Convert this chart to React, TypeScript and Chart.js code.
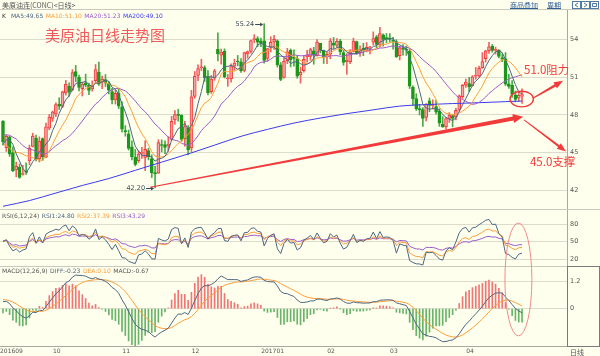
import { useEffect, useRef } from "react";
import { Chart, registerables } from "chart.js";

Chart.register(...registerables);

// ---------------- data ----------------
const dates: string[] = [
  "2016-09-09","2016-09-12","2016-09-13","2016-09-14","2016-09-15","2016-09-16","2016-09-19","2016-09-20","2016-09-21","2016-09-22","2016-09-23","2016-09-26","2016-09-27","2016-09-28","2016-09-29","2016-09-30",
  "2016-10-03","2016-10-04","2016-10-05","2016-10-06","2016-10-07","2016-10-10","2016-10-11","2016-10-12","2016-10-13","2016-10-14","2016-10-17","2016-10-18","2016-10-19","2016-10-20","2016-10-21","2016-10-24","2016-10-25","2016-10-26","2016-10-27","2016-10-28","2016-10-31",
  "2016-11-01","2016-11-02","2016-11-03","2016-11-04","2016-11-07","2016-11-08","2016-11-09","2016-11-10","2016-11-11","2016-11-14","2016-11-15","2016-11-16","2016-11-17","2016-11-18","2016-11-21","2016-11-22","2016-11-23","2016-11-25","2016-11-28","2016-11-29","2016-11-30",
  "2016-12-01","2016-12-02","2016-12-05","2016-12-06","2016-12-07","2016-12-08","2016-12-09","2016-12-12","2016-12-13","2016-12-14","2016-12-15","2016-12-16","2016-12-19","2016-12-20","2016-12-21","2016-12-22","2016-12-23","2016-12-27","2016-12-28","2016-12-29","2016-12-30",
  "2017-01-03","2017-01-04","2017-01-05","2017-01-06","2017-01-09","2017-01-10","2017-01-11","2017-01-12","2017-01-13","2017-01-17","2017-01-18","2017-01-19","2017-01-20","2017-01-23","2017-01-24","2017-01-25","2017-01-26","2017-01-27","2017-01-30","2017-01-31",
  "2017-02-01","2017-02-02","2017-02-03","2017-02-06","2017-02-07","2017-02-08","2017-02-09","2017-02-10","2017-02-13","2017-02-14","2017-02-15","2017-02-16","2017-02-17","2017-02-21","2017-02-22","2017-02-23","2017-02-24","2017-02-27","2017-02-28",
  "2017-03-01","2017-03-02","2017-03-03","2017-03-06","2017-03-07","2017-03-08","2017-03-09","2017-03-10","2017-03-13","2017-03-14","2017-03-15","2017-03-16","2017-03-17","2017-03-20","2017-03-21","2017-03-22","2017-03-23","2017-03-24","2017-03-27","2017-03-28","2017-03-29","2017-03-30","2017-03-31",
  "2017-04-03","2017-04-04","2017-04-05","2017-04-06","2017-04-07","2017-04-10","2017-04-11","2017-04-12","2017-04-13","2017-04-17","2017-04-18","2017-04-19","2017-04-20","2017-04-21","2017-04-24","2017-04-25","2017-04-26",
];

const opens: number[] = [
  47.50,45.40,46.26,45.00,43.63,43.84,43.27,43.53,44.34,45.50,46.16,44.50,46.13,44.65,46.95,47.72,
  48.06,48.86,48.67,49.75,50.26,50.00,51.43,50.98,50.08,50.54,50.36,50.07,50.71,51.40,50.64,50.80,50.48,49.85,49.19,49.73,48.65,
  46.74,46.50,45.47,44.65,44.37,44.95,44.62,45.16,44.53,43.42,43.37,45.58,45.65,45.55,46.05,47.60,48.02,47.98,46.12,46.95,45.37,
  49.46,51.13,51.74,51.76,51.04,49.84,50.92,53.20,52.75,53.06,50.85,50.86,51.86,52.23,52.22,51.53,52.83,53.03,53.97,54.05,53.87,
  53.87,52.48,53.37,53.80,53.87,51.97,50.97,52.31,53.12,52.53,52.46,51.18,51.52,52.62,52.65,53.09,52.71,53.67,53.08,52.64,
  52.82,53.70,53.52,53.85,52.95,52.22,52.23,53.04,53.82,52.93,53.30,53.14,53.32,53.78,54.20,53.54,54.35,54.07,54.11,
  53.91,53.81,52.70,53.30,53.19,53.07,50.20,49.30,48.51,48.42,47.80,49.11,48.76,48.66,48.29,47.25,47.05,47.72,47.94,47.83,48.43,49.44,50.35,
  50.48,50.31,51.07,51.09,51.75,52.46,53.10,53.45,53.12,53.13,52.55,52.45,50.47,50.35,49.60,49.32,49.48,
];
const highs: number[] = [
  47.55,46.42,46.30,45.47,44.26,44.11,44.00,44.19,45.60,46.55,46.39,46.26,46.18,47.35,48.04,48.30,
  48.95,49.36,49.89,50.74,50.54,51.60,51.93,51.17,50.61,51.24,50.53,50.70,52.00,52.20,51.09,51.20,50.64,50.10,49.96,50.09,49.03,
  47.15,46.80,45.95,45.26,45.17,45.43,45.95,45.36,44.83,43.94,46.03,46.02,45.94,46.27,47.89,48.35,48.45,48.00,47.50,47.16,49.95,
  51.44,51.98,52.42,51.90,51.51,51.13,51.62,54.51,53.23,53.24,51.21,52.05,52.42,52.72,52.47,52.98,53.08,53.94,54.37,54.21,54.09,
  55.24,53.26,54.20,54.31,53.96,52.16,52.50,53.28,53.24,53.16,52.69,51.78,52.69,53.13,53.30,53.37,53.98,53.69,53.15,52.98,
  54.06,54.14,54.05,54.00,53.14,52.86,53.19,54.09,53.86,53.49,53.68,53.74,53.45,54.59,54.31,54.94,54.43,54.46,54.46,
  54.15,53.96,53.47,53.58,53.47,53.26,50.30,49.68,48.84,48.58,48.90,49.34,49.20,49.18,48.49,47.86,47.79,48.18,48.01,48.52,49.59,50.42,50.85,
  50.98,51.12,51.77,51.88,52.94,53.13,53.76,53.59,53.38,53.19,52.86,52.95,51.23,50.73,49.90,49.87,50.07,
];
const lows: number[] = [
  45.59,45.10,44.71,43.50,43.09,42.97,43.21,43.27,44.05,45.45,44.35,44.26,44.39,44.60,46.82,47.48,
  47.86,48.43,48.58,49.57,49.47,49.90,50.64,49.90,49.50,50.22,49.60,49.88,50.55,50.33,50.08,50.25,49.66,48.87,48.86,48.50,46.63,
  46.31,45.21,44.42,43.95,44.22,44.54,43.58,44.43,43.03,42.20,43.35,45.06,44.92,45.11,45.98,47.24,47.50,45.90,45.51,44.82,45.09,
  49.31,50.72,51.50,50.65,49.58,49.70,50.74,52.29,52.03,50.93,50.27,50.59,51.56,51.89,51.38,51.41,52.50,52.89,53.72,53.41,53.41,
  52.11,52.26,53.00,53.19,51.80,50.71,50.91,52.07,51.81,51.87,50.91,50.52,51.40,52.18,52.33,52.02,52.66,52.91,52.08,52.07,
  52.45,53.27,53.37,52.77,51.94,51.22,52.07,52.99,52.81,52.65,52.70,53.00,52.83,53.54,53.31,53.38,53.46,53.73,53.78,
  53.21,52.56,52.36,52.75,52.72,50.09,48.75,48.35,47.99,47.09,47.53,48.25,48.47,48.05,47.09,47.01,46.88,47.40,47.05,47.61,48.27,49.30,50.19,
  49.85,50.29,50.83,51.00,51.69,52.20,52.87,52.97,52.83,52.53,52.22,50.33,50.11,49.39,49.03,49.07,48.92,
];
const closes: number[] = [
  45.88,46.29,44.90,43.58,43.91,43.03,43.30,43.44,45.34,46.32,44.48,45.93,44.67,47.05,47.83,48.24,
  48.81,48.69,49.83,50.44,49.81,51.35,51.05,50.18,50.44,50.35,49.94,50.29,51.60,50.43,50.85,50.52,49.96,49.18,49.72,48.70,46.86,
  46.67,45.34,44.66,44.07,44.89,44.98,45.27,44.66,43.41,43.32,45.81,45.57,45.42,45.69,47.49,48.03,47.96,46.06,47.08,45.23,49.44,
  51.06,51.68,51.79,50.93,49.77,50.84,51.50,52.83,52.98,51.04,50.90,51.90,52.12,52.20,51.49,52.95,53.02,53.90,54.06,53.77,53.72,
  52.33,53.26,53.76,53.99,51.96,50.82,52.25,53.01,52.37,52.48,51.08,51.37,52.42,52.75,53.18,52.75,53.78,53.17,52.63,52.81,
  53.88,53.54,53.83,53.01,52.17,52.34,53.00,53.86,52.93,53.20,53.11,53.36,53.40,54.06,53.59,54.45,53.99,54.05,54.01,
  53.83,52.61,53.33,53.20,53.14,50.28,49.28,48.49,48.40,47.72,48.86,48.75,48.78,48.22,47.34,47.04,47.70,47.97,47.73,48.37,49.51,50.35,50.60,
  50.24,51.03,51.15,51.70,52.24,53.08,53.40,53.11,53.18,52.65,52.41,50.44,50.27,49.62,49.23,49.56,49.62,
];

// closes of the sessions before the first visible bar (warm-up of the indicators)
const priorCloses: number[] = [44.49,45.74,46.58,46.79,48.22,48.52,47.05,48.10,46.77,47.33,47.64,46.98,46.35,44.70,43.16,44.44,44.83,45.50,47.62];
// EMA12, EMA26 and DEA before the warm-up closes
const macdSeed: number[] = [42.4, 43.2, -0.8];

// MA200 (bar index -> value)
const ma200Index: number[] = [0, 8, 16, 24, 32, 40, 48, 56, 64, 72, 80, 88, 96, 104, 112, 120, 128, 136, 144, 152, 157];
const ma200Values: number[] = [40.75, 41.2, 41.8, 42.4, 42.95, 43.6, 44.25, 44.9, 45.6, 46.3, 46.85, 47.35, 47.75, 48.1, 48.4, 48.7, 48.82, 48.9, 48.97, 49.05, 49.1];

const monthLabels: string[] = ["201609", "10", "11", "12", "201701", "02", "03", "04"];
const priceTicks: number[] = [42, 45, 48, 51, 54];
const rsiTicks: number[] = [20, 50, 80];
const macdTicks: number[] = [0, 1.2];

const headerTitle = "美原油连(CONC)<日线>";
const headerLinks: string[] = ["商品叠加", "周期"];
const mainLegend: string[] = ["K", "MA5:49.65", "MA10:51.10", "MA20:51.23", "MA200:49.10"];
const rsiLegend: string[] = ["RSI(6,12,24)", "RSI1:24.80", "RSI2:37.39", "RSI3:43.29"];
const macdLegend: string[] = ["MACD(12,26,9)", "DIFF:-0.23", "DEA:0.10", "MACD:-0.67"];
const chartTitle = "美原油日线走势图";
const resistNote = "51.0阻力";
const supportNote = "45.0支撑";
const periodLabel = "日线";

// hand-drawn annotations, in data units (bar index, value)
const annot = {
  title: [12.7, 54.3],
  support: [44.5, 42.25, 157.3, 47.86],
  toSupport: [157.6, 47.6, 170.3, 45.1],
  toResist: [160.4, 49.34, 169.4, 50.71],
  ring: [156.9, 49.26, 3.54, 0.62],
  resistText: [157.6, 51.56],
  supportText: [159.4, 44.29],
  macdRing: [155.9, 1.3, 4.08, 2.51],
};

// ---------------- styles ----------------
const FONT_UI = '"DejaVu Sans", Verdana, sans-serif';
const FONT_CJK = '"Noto Sans CJK SC", sans-serif';
const C = {
  bg: "#FFFFEE",
  up: "#f03c3c",
  upFill: "#f8a4a4",
  down: "#1b981b",
  upWick: "#f06262",
  downWick: "#4aa84a",
  ma5: "#4d6682",
  ma10: "#ff9d38",
  ma20: "#9b5ccb",
  ma200: "#3b3bef",
  grid: "#dcdccc",
  axis: "#a9a9a0",
  text: "#555555",
  note: "#f23a3a",
  ring2: "#f08a8a",
  histUp: "#f27575",
  histDown: "#68b468",
  link: "#2f5e98",
  extreme: "#3a4a5a",
};

// ---------------- derived series ----------------
const allCloses = [...priorCloses, ...closes];
const W = priorCloses.length;
const idx = closes.map((_, i) => i);
const sma = (n: number) =>
  closes.map((_, i) => {
    const j = i + W;
    const s = allCloses.slice(Math.max(0, j - n + 1), j + 1);
    return s.reduce((a, b) => a + b, 0) / s.length;
  });
const rsi = (n: number) => {
  let up = 0, dn = 0;
  const out: number[] = [];
  for (let j = 1; j < allCloses.length; j++) {
    const d = allCloses[j] - allCloses[j - 1];
    up = (Math.max(d, 0) + (n - 1) * up) / n;
    dn = (Math.abs(d) + (n - 1) * dn) / n;
    if (j >= W) out.push(dn === 0 ? 50 : (100 * up) / dn);
  }
  return out;
};
const macd = () => {
  let e12 = macdSeed[0], e26 = macdSeed[1], dea = macdSeed[2];
  const diff: number[] = [], deaArr: number[] = [], hist: number[] = [];
  allCloses.forEach((c, j) => {
    e12 += ((c - e12) * 2) / 13;
    e26 += ((c - e26) * 2) / 27;
    const d = e12 - e26;
    dea += ((d - dea) * 2) / 10;
    if (j >= W) {
      diff.push(d);
      deaArr.push(dea);
      hist.push(2 * (d - dea));
    }
  });
  return { diff, dea: deaArr, hist };
};

const monthStarts = dates
  .map((d, i) => (i === 0 || d.slice(0, 7) !== dates[i - 1].slice(0, 7) ? i : -1))
  .filter((i) => i >= 0);

const pts = (arr: number[]) => arr.map((y, i) => ({ x: i, y }));

function taperArrow(ctx: CanvasRenderingContext2D, x0: number, y0: number, x1: number, y1: number, w0: number, w1: number, hl: number, hw: number) {
  const dx = x1 - x0, dy = y1 - y0, L = Math.hypot(dx, dy);
  const ux = dx / L, uy = dy / L, nx = -uy, ny = ux;
  const bx = x1 - ux * hl, by = y1 - uy * hl;
  ctx.beginPath();
  ctx.moveTo(x0 + (nx * w0) / 2, y0 + (ny * w0) / 2);
  ctx.lineTo(bx + (nx * w1) / 2, by + (ny * w1) / 2);
  ctx.lineTo(bx + (nx * hw) / 2, by + (ny * hw) / 2);
  ctx.lineTo(x1, y1);
  ctx.lineTo(bx - (nx * hw) / 2, by - (ny * hw) / 2);
  ctx.lineTo(bx - (nx * w1) / 2, by - (ny * w1) / 2);
  ctx.lineTo(x0 - (nx * w0) / 2, y0 - (ny * w0) / 2);
  ctx.closePath();
  ctx.fill();
}

const overlay = {
  id: "overlay",
  afterDraw(chart: any) {
    const { ctx, scales } = chart;
    const xs = scales.x, ys = scales.y, rs = scales.rsi, ms = scales.macd;
    const W2 = chart.width;
    ctx.save();
    ctx.textBaseline = "middle";

    // header bar
    ctx.font = `7px ${FONT_CJK}`;
    ctx.fillStyle = C.text;
    ctx.textAlign = "left";
    ctx.fillText(headerTitle, 2, 5);
    ctx.fillStyle = C.link;
    ctx.strokeStyle = C.link;
    ctx.lineWidth = 1;
    const linkX = [510, 547];
    headerLinks.forEach((t: string, k: number) => {
      ctx.fillText(t, linkX[k], 5);
      const w = ctx.measureText(t).width;
      ctx.beginPath();
      ctx.moveTo(linkX[k], 8.5);
      ctx.lineTo(linkX[k] + w, 8.5);
      ctx.stroke();
    });
    [572, 581, 590].forEach((bx, k) => {
      ctx.strokeStyle = "#4f79a8";
      ctx.strokeRect(bx + 0.5, 1.5, 8, 7);
      ctx.beginPath();
      if (k === 0) { ctx.moveTo(bx + 6, 3); ctx.lineTo(bx + 3, 5); ctx.lineTo(bx + 6, 7); }
      else if (k === 1) { ctx.moveTo(bx + 3, 3); ctx.lineTo(bx + 6, 5); ctx.lineTo(bx + 3, 7); }
      else { ctx.rect(bx + 2.5, 3.5, 4, 3); }
      ctx.stroke();
    });
    ctx.strokeStyle = "#c9c9bd";
    ctx.beginPath();
    ctx.moveTo(0, 9.5);
    ctx.lineTo(W2, 9.5);
    ctx.stroke();

    // panel separators
    [rs.top, ms.top].forEach((y: number) => {
      ctx.beginPath();
      ctx.moveTo(0, Math.round(y) + 0.5);
      ctx.lineTo(W2, Math.round(y) + 0.5);
      ctx.stroke();
    });

    // legends
    const legend = (items: string[], colors: string[], y: number) => {
      ctx.font = `6px ${FONT_UI}`;
      ctx.textAlign = "left";
      let x = 2;
      items.forEach((t, k) => {
        ctx.fillStyle = colors[k];
        ctx.fillText(t, x, y);
        x += ctx.measureText(t).width + (k === 0 && t === "K" ? 5 : 2.5);
      });
    };
    legend(mainLegend, ["#333", C.ma5, C.ma10, C.ma20, C.ma200], ys.top + 6);
    legend(rsiLegend, [C.text, C.ma5, C.ma10, C.ma20], rs.top + 7);
    legend(macdLegend, [C.text, C.ma5, C.ma10, C.text], ms.top + 5);

    // extreme labels
    ctx.font = `6.5px ${FONT_UI}`;
    const hiV = Math.max(...highs), loV = Math.min(...lows);
    [[highs.indexOf(hiV), hiV], [lows.indexOf(loV), loV]].forEach(([i, v]) => {
      const px = xs.getPixelForValue(i), py = Math.round(ys.getPixelForValue(v));
      ctx.strokeStyle = C.extreme;
      ctx.fillStyle = C.extreme;
      ctx.beginPath();
      ctx.moveTo(px - 9, py + 0.5);
      ctx.lineTo(px - 2, py + 0.5);
      ctx.stroke();
      ctx.beginPath();
      ctx.moveTo(px - 1, py + 0.5);
      ctx.lineTo(px - 4, py - 1.5);
      ctx.lineTo(px - 4, py + 2.5);
      ctx.closePath();
      ctx.fill();
      ctx.textAlign = "right";
      ctx.fillText(v.toFixed(2), px - 10, py);
    });

    // MACD axis box & period label
    ctx.strokeStyle = "#7a7a7a";
    ctx.strokeRect(Math.round(ms.left) + 0.5, Math.round(ms.top) + 0.5, W2 - Math.round(ms.left) - 1, Math.round(ms.bottom - ms.top));
    ctx.fillStyle = C.text;
    ctx.font = `7px ${FONT_CJK}`;
    ctx.textAlign = "left";
    ctx.fillText(periodLabel, ms.left + 3, chart.height - 4);

    // annotations
    const X = (v: number) => xs.getPixelForValue(v);
    const Y = (v: number) => ys.getPixelForValue(v);
    ctx.fillStyle = C.note;
    ctx.font = `15px ${FONT_CJK}`;
    ctx.textAlign = "left";
    ctx.fillStyle = "#f05a5a";
    ctx.fillText(chartTitle, X(annot.title[0]), Y(annot.title[1]));
    ctx.fillStyle = C.note;
    const s = annot.support;
    taperArrow(ctx, X(s[0]), Y(s[1]), X(s[2]), Y(s[3]), 1, 4, 10, 9);
    const a2 = annot.toSupport;
    taperArrow(ctx, X(a2[0]), Y(a2[1]), X(a2[2]), Y(a2[3]), 1, 2.2, 9, 7);
    const a3 = annot.toResist;
    taperArrow(ctx, X(a3[0]), Y(a3[1]), X(a3[2]), Y(a3[3]), 1.2, 2.6, 9, 7);
    const r = annot.ring;
    ctx.strokeStyle = C.note;
    ctx.lineWidth = 1.4;
    ctx.beginPath();
    ctx.ellipse(X(r[0]), Y(r[1]), Math.abs(X(r[0] + r[2]) - X(r[0])), Math.abs(Y(r[1] + r[3]) - Y(r[1])), 0, 0, Math.PI * 2);
    ctx.stroke();
    ctx.font = `11.5px ${FONT_CJK}`;
    ctx.fillText(resistNote, X(annot.resistText[0]), Y(annot.resistText[1]));
    ctx.fillText(supportNote, X(annot.supportText[0]), Y(annot.supportText[1]));
    const m = annot.macdRing;
    const MY = (v: number) => ms.getPixelForValue(v);
    ctx.strokeStyle = C.ring2;
    ctx.lineWidth = 1;
    ctx.beginPath();
    ctx.ellipse(X(m[0]), MY(m[1]), Math.abs(X(m[0] + m[2]) - X(m[0])), Math.abs(MY(m[1] + m[3]) - MY(m[1])), 0, 0, Math.PI * 2);
    ctx.stroke();
    ctx.restore();
  },
};

export default function App() {
  const ref = useRef<HTMLCanvasElement>(null);
  useEffect(() => {
    const ma5 = sma(5), ma10 = sma(10), ma20 = sma(20);
    const r1 = rsi(6), r2 = rsi(12), r3 = rsi(24);
    const md = macd();
    const up = (i: number) => closes[i] >= opens[i];
    const yTicks = (list: number[]) => (s: any) => {
      s.ticks = list.map((v) => ({ value: v }));
    };
    const yFit = (s: any) => {
      s.width = 33;
      s.paddingTop = 0;
      s.paddingBottom = 0;
    };
    const yCommon = {
      type: "linear" as const,
      position: "right" as const,
      stack: "panels",
      grid: { color: C.grid, drawTicks: false },
      border: { color: C.axis },
      ticks: { padding: 3, color: C.text, font: { family: FONT_UI, size: 6.5 } },
      afterFit: yFit,
    };
    const chart = new Chart(ref.current as HTMLCanvasElement, {
      type: "line",
      data: {
        datasets: [
          { type: "line", data: pts(ma5), borderColor: C.ma5, yAxisID: "y", order: 0 },
          { type: "line", data: pts(ma10), borderColor: C.ma10, yAxisID: "y", order: 0 },
          { type: "line", data: pts(ma20), borderColor: C.ma20, yAxisID: "y", order: 0 },
          {
            type: "line",
            data: ma200Index.map((x, k) => ({ x, y: ma200Values[k] })),
            borderColor: C.ma200,
            cubicInterpolationMode: "monotone",
            yAxisID: "y",
            order: 0,
          },
          {
            type: "bar",
            data: idx.map((i) => ({ x: i, y: [opens[i], closes[i]] })) as any,
            backgroundColor: idx.map((i) => (up(i) ? C.upFill : C.down)),
            borderColor: idx.map((i) => (up(i) ? C.up : C.down)),
            borderWidth: 1,
            borderSkipped: false,
            barThickness: 3,
            minBarLength: 1,
            grouped: false,
            yAxisID: "y",
            order: 1,
          },
          {
            type: "bar",
            data: idx.map((i) => ({ x: i, y: [lows[i], highs[i]] })) as any,
            backgroundColor: idx.map((i) => (up(i) ? C.upWick : C.downWick)),
            borderWidth: 0,
            barThickness: 1,
            grouped: false,
            yAxisID: "y",
            order: 2,
          },
          { type: "line", data: pts(r1), borderColor: C.ma5, yAxisID: "rsi", order: 0 },
          { type: "line", data: pts(r2), borderColor: C.ma10, yAxisID: "rsi", order: 0 },
          { type: "line", data: pts(r3), borderColor: C.ma20, yAxisID: "rsi", order: 0 },
          { type: "line", data: pts(md.diff), borderColor: C.ma5, yAxisID: "macd", order: 0 },
          { type: "line", data: pts(md.dea), borderColor: C.ma10, yAxisID: "macd", order: 0 },
          {
            type: "bar",
            data: pts(md.hist) as any,
            backgroundColor: md.hist.map((v) => (v >= 0 ? C.histUp : C.histDown)),
            borderWidth: 0,
            barThickness: 1,
            grouped: false,
            yAxisID: "macd",
            order: 3,
          },
        ] as any,
      },
      options: {
        responsive: false,
        animation: false,
        devicePixelRatio: 1,
        layout: { padding: { top: 10, left: 0, right: 0, bottom: 0 } },
        elements: { point: { radius: 0 }, line: { borderWidth: 1, tension: 0 } },
        plugins: { legend: { display: false }, tooltip: { enabled: false } },
        events: [],
        scales: {
          x: {
            type: "linear",
            min: -0.907,
            max: 170.6,
            offset: false,
            grid: { display: false, drawTicks: false },
            border: { display: true, color: C.axis },
            ticks: {
              autoSkip: false,
              maxRotation: 0,
              align: "start",
              labelOffset: -3,
              padding: 2,
              color: C.text,
              font: { family: FONT_UI, size: 6 },
              callback: (v: any) => {
                const k = monthStarts.indexOf(Number(v));
                return k >= 0 ? monthLabels[k] : "";
              },
            },
            afterBuildTicks: (s: any) => {
              s.ticks = monthStarts.map((v) => ({ value: v }));
            },
            afterFit: (s: any) => {
              s.height = 10;
              s.paddingLeft = 0;
              s.paddingRight = 0;
            },
          },
          y: { ...yCommon, stackWeight: 199, min: 40.532, max: 56.325, afterBuildTicks: yTicks(priceTicks) },
          rsi: { ...yCommon, stackWeight: 57, min: 7.96, max: 106.6, afterBuildTicks: yTicks(rsiTicks) },
          macd: {
            ...yCommon,
            stackWeight: 80,
            min: -1.658,
            max: 1.898,
            afterBuildTicks: yTicks(macdTicks),
            ticks: { ...yCommon.ticks, callback: (v: any) => (Number(v) === 0 ? "0" : Number(v).toFixed(1)) },
          },
        } as any,
      },
      plugins: [overlay],
    } as any);
    return () => chart.destroy();
  }, []);
  return (
    <div style={{ position: "fixed", left: 0, top: 0, width: 600, height: 356, background: C.bg }}>
      <canvas ref={ref} width={600} height={356} style={{ display: "block", width: 600, height: 356 }} />
    </div>
  );
}
